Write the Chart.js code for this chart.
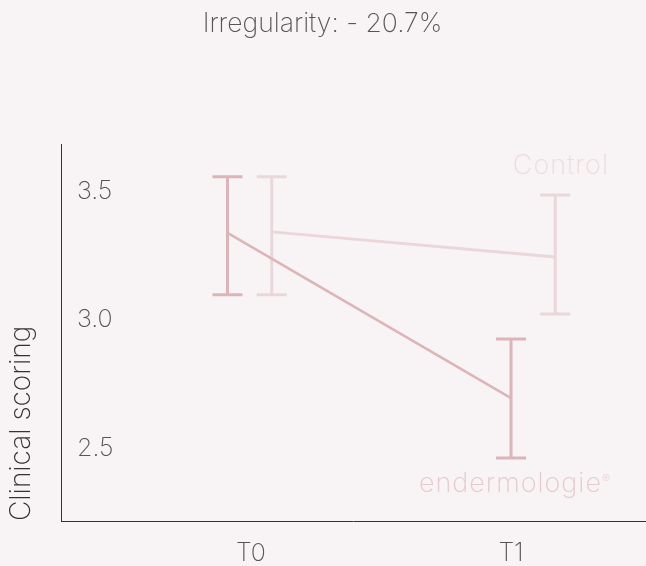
<!DOCTYPE html>
<html>
<head>
<meta charset="utf-8">
<script src="https://cdn.jsdelivr.net/npm/chart.js@4"></script>
<style>
  html, body { margin: 0; padding: 0; background: #f8f3f4; }
  #wrap { width: 646px; height: 566px; }
</style>
</head>
<body>
<div id="wrap"><canvas id="chart"></canvas></div>
<script>
// time points and their x positions
const timeLabels = ['T0', 'T1'];
const yTicks = [2.5, 3.0, 3.5];

// endermologie group
const enderX = [-0.09, 1.0];
const enderMean = [3.34, 2.695];
const enderLow = [3.098, 2.461];
const enderHigh = [3.559, 2.926];

// control group
const controlX = [0.08, 1.17];
const controlMean = [3.344, 3.246];
const controlLow = [3.098, 3.023];
const controlHigh = [3.559, 3.488];

const FONT = 'Inter, "Open Sans", sans-serif';
const enderColor = '#dcb5b9';
const controlColor = '#ead7da';

const points = (xs, ys) => xs.map((x, i) => ({ x: x, y: ys[i] }));

// vertical error bars with caps, plus the in-plot group names
const errorBars = {
  id: 'errorBars',
  beforeDatasetsDraw(chart) {
    const { ctx, scales: { x, y } } = chart;
    const sets = [
      { xs: controlX, lo: controlLow, hi: controlHigh, color: controlColor },
      { xs: enderX, lo: enderLow, hi: enderHigh, color: enderColor },
    ];
    ctx.save();
    ctx.lineWidth = 3;
    sets.forEach(s => {
      ctx.strokeStyle = s.color;
      s.xs.forEach((v, i) => {
        const px = x.getPixelForValue(v);
        const top = y.getPixelForValue(s.hi[i]);
        const bot = y.getPixelForValue(s.lo[i]);
        ctx.beginPath();
        ctx.moveTo(px, top); ctx.lineTo(px, bot);
        ctx.moveTo(px - 15, top); ctx.lineTo(px + 15, top);
        ctx.moveTo(px - 15, bot); ctx.lineTo(px + 15, bot);
        ctx.stroke();
      });
    });
    ctx.restore();
  },
  afterDatasetsDraw(chart) {
    const { ctx, chartArea: a } = chart;
    ctx.save();
    ctx.letterSpacing = '1px';
    ctx.textBaseline = 'middle';
    ctx.textAlign = 'right';
    ctx.font = '200 27px ' + FONT;
    ctx.fillStyle = '#ecdcde';
    ctx.fillText('Control', a.left + 548, 166);
    // endermologie with registered mark
    ctx.letterSpacing = '0px';
    ctx.font = '200 12px ' + FONT;
    ctx.fillStyle = '#e6c9cc';
    const regW = ctx.measureText('®').width;
    ctx.textAlign = 'left';
    ctx.fillText('®', a.left + 549 - regW, 479);
    ctx.letterSpacing = '1px';
    ctx.textAlign = 'right';
    ctx.font = '200 27px ' + FONT;
    ctx.fillText('endermologie', a.left + 549 - regW, 484);
    ctx.restore();
  }
};

new Chart(document.getElementById('chart'), {
  type: 'line',
  data: {
    datasets: [
      {
        label: 'endermologie®',
        data: points(enderX, enderMean),
        borderColor: enderColor,
        borderWidth: 2.5,
        pointRadius: 0,
      },
      {
        label: 'Control',
        data: points(controlX, controlMean),
        borderColor: controlColor,
        borderWidth: 3,
        pointRadius: 0,
      },
    ],
  },
  options: {
    responsive: true,
    maintainAspectRatio: false,
    animation: false,
    layout: { padding: { right: 1 } },
    plugins: {
      legend: { display: false },
      tooltip: { enabled: false },
      title: {
        display: true,
        text: 'Irregularity: - 20.7%',
        color: '#555',
        font: { family: FONT, size: 26.5, weight: 200 },
        padding: { top: 8, bottom: 105 },
      },
    },
    scales: {
      x: {
        type: 'linear',
        min: -0.73,
        max: 1.515,
        afterBuildTicks: s => { s.ticks = timeLabels.map((t, i) => ({ value: i })); },
        afterFit: s => { s.height = 45; },
        grid: { display: false, drawTicks: false },
        border: { display: true, color: '#333', width: 1 },
        ticks: {
          padding: 17,
          color: '#555',
          font: { family: FONT, size: 25, weight: 200 },
          callback: v => timeLabels[v],
        },
      },
      y: {
        min: 2.215,
        max: 3.684,
        afterBuildTicks: s => { s.ticks = yTicks.map(v => ({ value: v })); },
        afterFit: s => { s.width = 61; },
        grid: { display: false, drawTicks: false },
        border: { display: true, color: '#333', width: 1 },
        ticks: {
          mirror: true,
          padding: 16,
          color: '#555',
          font: { family: FONT, size: 25, weight: 200 },
          callback: v => v.toFixed(1),
        },
        title: {
          display: true,
          text: 'Clinical scoring',
          align: 'start',
          color: '#333',
          font: { family: FONT, size: 28, weight: 200 },
          padding: { top: 5, bottom: 0 },
        },
      },
    },
  },
  plugins: [errorBars],
});
</script>
</body>
</html>
